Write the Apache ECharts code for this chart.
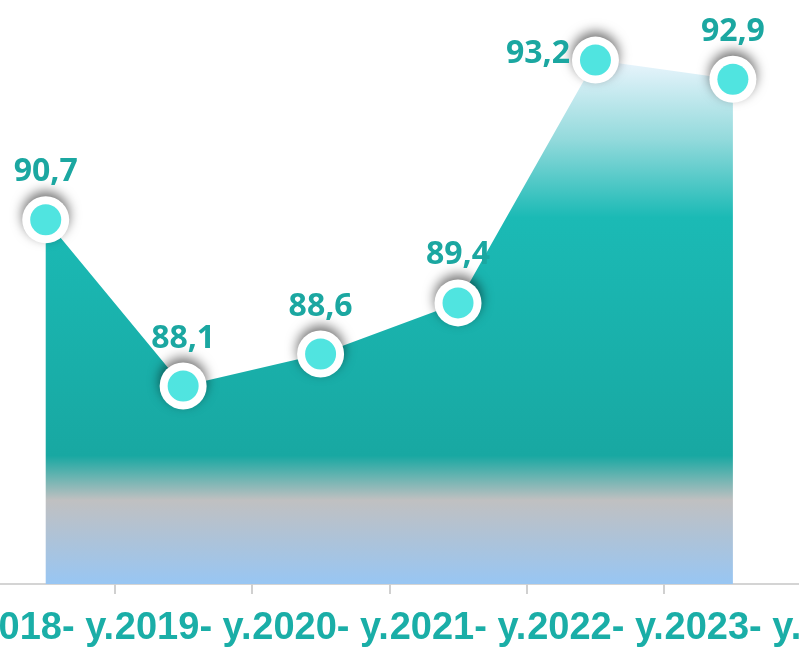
<!DOCTYPE html>
<html>
<head>
<meta charset="utf-8">
<script src="https://cdn.jsdelivr.net/npm/echarts@6/dist/echarts.min.js"></script>
<style>
  html, body { margin: 0; padding: 0; background: #fff; overflow: hidden; }
  /* 第一个类目带从画面左边以外开始 */
  #main { position: relative; left: -31px; width: 835px; height: 648px; }
</style>
</head>
<body>
<div id="main"></div>
<script>
// 数据
var years = ['2018- y.', '2019- y.', '2020- y.', '2021- y.', '2022- y.', '2023- y.'];
var values = [90.7, 88.1, 88.6, 89.4, 93.2, 92.9];

var chart = echarts.init(document.getElementById('main'));

// 93,2 的标签放在点的左边
var points = values.map(function (v, i) {
    var item = { value: v };
    if (i === 4) {
        item.label = { position: 'left', distance: 2, offset: [0, -6] };
    }
    return item;
});

chart.setOption({
    animation: false,
    grid: {
        left: 8,
        right: 0,
        top: 9,
        bottom: 63
    },
    xAxis: {
        type: 'category',
        data: years,
        boundaryGap: true,
        axisLine: {
            lineStyle: { color: '#d4d4d4', width: 2 }
        },
        axisTick: {
            show: true,
            alignWithLabel: false,
            interval: 0,
            length: 10,
            lineStyle: { color: '#d0d0d0', width: 2 }
        },
        axisLabel: {
            interval: 0,
            margin: 26,
            color: '#1aaea7',
            fontSize: 38,
            fontWeight: 'bold',
            fontFamily: 'Liberation Sans, Arial, sans-serif'
        }
    },
    yAxis: {
        type: 'value',
        min: 85,
        max: 94,
        show: false,
        splitLine: { show: false }
    },
    series: [{
        // 面积 + 白色外圈(带阴影)
        type: 'line',
        data: points,
        symbol: 'circle',
        symbolSize: 47,
        lineStyle: { width: 0, opacity: 0 },
        itemStyle: {
            color: '#ffffff',
            shadowColor: 'rgba(0,0,0,0.55)',
            shadowBlur: 12,
            shadowOffsetY: -5
        },
        label: {
            show: true,
            position: 'top',
            distance: 8,
            color: '#1ba7a1',
            fontSize: 32,
            fontWeight: 'bold',
            fontFamily: 'Open Sans, sans-serif',
            formatter: function (p) {
                return String(p.value).replace('.', ',');
            }
        },
        areaStyle: {
            opacity: 1,
            color: new echarts.graphic.LinearGradient(0, 0, 0, 1, [
                { offset: 0, color: '#eaf5fd' },
                { offset: 0.15, color: '#94dadc' },
                { offset: 0.3, color: '#1bbab5' },
                { offset: 0.755, color: '#18a8a2' },
                { offset: 0.84, color: '#c0c0c1' },
                { offset: 1, color: '#98c6f3' }
            ])
        }
    }, {
        // 内部青色圆点
        type: 'line',
        data: values,
        symbol: 'circle',
        symbolSize: 31,
        lineStyle: { width: 0, opacity: 0 },
        itemStyle: { color: '#50e4e0' },
        silent: true
    }]
});
</script>
</body>
</html>
